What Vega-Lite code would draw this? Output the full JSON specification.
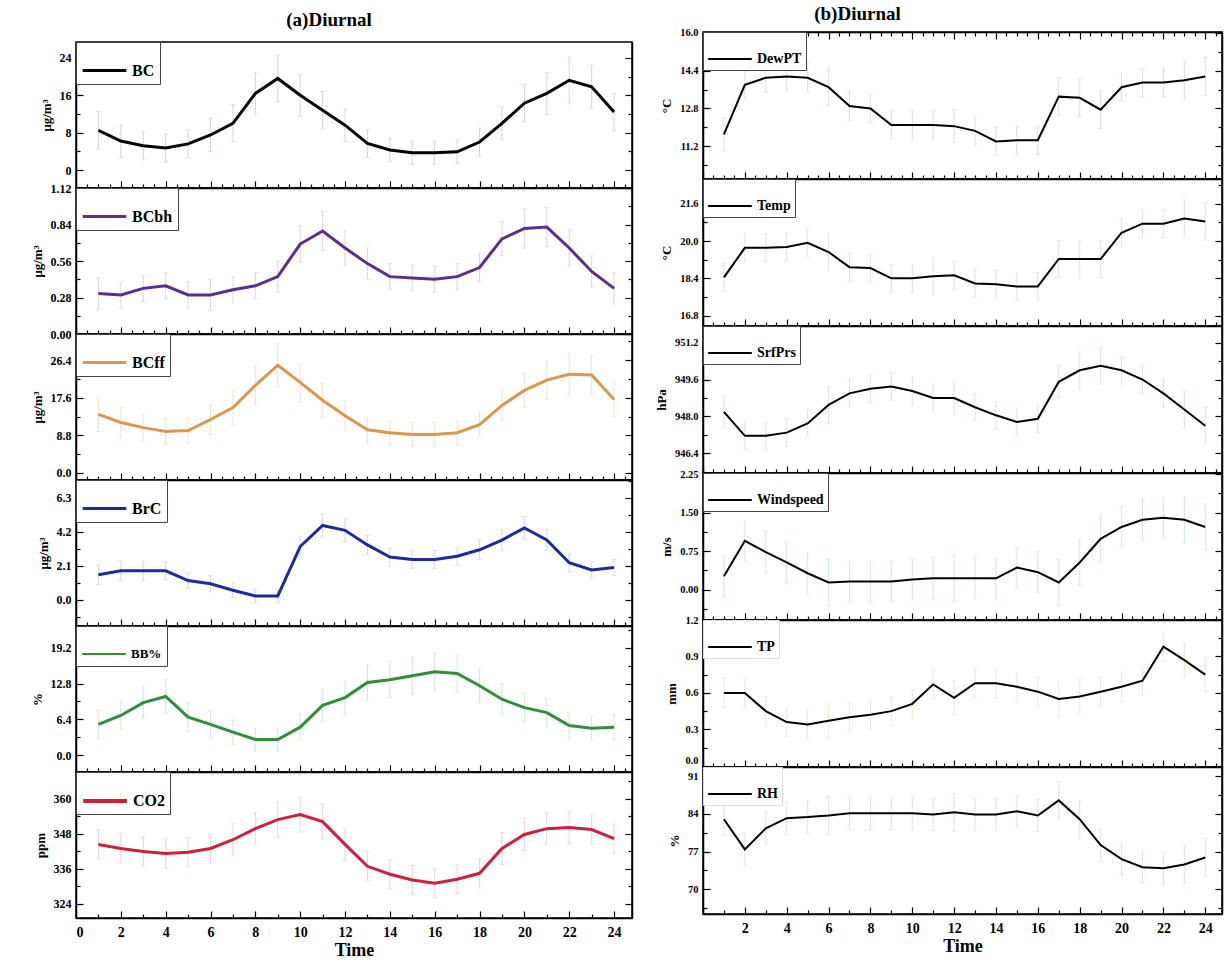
{
  "$schema": "https://vega.github.io/schema/vega-lite/v6.json",
  "padding": {"left": 30, "top": 4, "right": 5, "bottom": 5},
  "background": "white",
  "config": {
    "view": {"stroke": "#000", "strokeWidth": 1.5},
    "axis": {"labelFont": "Liberation Serif", "labelFontWeight": "bold", "labelFontSize": 12, "labelColor": "#000",
      "titleFont": "Liberation Serif", "titleFontWeight": "bold", "titleFontSize": 13, "titleColor": "#000",
      "domainColor": "#000", "domainWidth": 1.5, "tickColor": "#000", "tickWidth": 1.2, "grid": false},
    "legend": {"labelFont": "Liberation Serif", "labelFontWeight": "bold", "labelFontSize": 16, "labelColor": "#000"}
  },
  "datasets": {
    "BC": [{"h":1,"v":8.5,"e":4},{"h":2,"v":6.2,"e":3.5},{"h":3,"v":5.2,"e":3},{"h":4,"v":4.7,"e":3},{"h":5,"v":5.6,"e":3},{"h":6,"v":7.5,"e":3.5},{"h":7,"v":10,"e":4},{"h":8,"v":16.4,"e":4.5},{"h":9,"v":19.6,"e":5},{"h":10,"v":16,"e":4.5},{"h":11,"v":12.8,"e":4},{"h":12,"v":9.6,"e":3.5},{"h":13,"v":5.7,"e":3},{"h":14,"v":4.3,"e":2.5},{"h":15,"v":3.7,"e":2.5},{"h":16,"v":3.7,"e":2.5},{"h":17,"v":3.9,"e":2.5},{"h":18,"v":6,"e":3},{"h":19,"v":10,"e":3.5},{"h":20,"v":14.3,"e":4},{"h":21,"v":16.4,"e":4.5},{"h":22,"v":19.2,"e":5},{"h":23,"v":17.8,"e":4.5},{"h":24,"v":12.4,"e":4}],
    "BCbh": [{"h":1,"v":0.31,"e":0.12},{"h":2,"v":0.30,"e":0.1},{"h":3,"v":0.35,"e":0.1},{"h":4,"v":0.37,"e":0.1},{"h":5,"v":0.30,"e":0.1},{"h":6,"v":0.30,"e":0.12},{"h":7,"v":0.34,"e":0.1},{"h":8,"v":0.37,"e":0.1},{"h":9,"v":0.44,"e":0.12},{"h":10,"v":0.69,"e":0.14},{"h":11,"v":0.79,"e":0.15},{"h":12,"v":0.66,"e":0.13},{"h":13,"v":0.54,"e":0.12},{"h":14,"v":0.44,"e":0.1},{"h":15,"v":0.43,"e":0.1},{"h":16,"v":0.42,"e":0.1},{"h":17,"v":0.44,"e":0.1},{"h":18,"v":0.51,"e":0.11},{"h":19,"v":0.73,"e":0.13},{"h":20,"v":0.81,"e":0.15},{"h":21,"v":0.82,"e":0.15},{"h":22,"v":0.66,"e":0.14},{"h":23,"v":0.48,"e":0.12},{"h":24,"v":0.35,"e":0.12}],
    "BCff": [{"h":1,"v":13.7,"e":4},{"h":2,"v":11.8,"e":3.5},{"h":3,"v":10.6,"e":3},{"h":4,"v":9.7,"e":3},{"h":5,"v":9.9,"e":3},{"h":6,"v":12.5,"e":3.5},{"h":7,"v":15.3,"e":4},{"h":8,"v":20.5,"e":4.5},{"h":9,"v":25.2,"e":5},{"h":10,"v":21.2,"e":4.5},{"h":11,"v":17,"e":4},{"h":12,"v":13.4,"e":3.5},{"h":13,"v":10.1,"e":3},{"h":14,"v":9.4,"e":2.8},{"h":15,"v":9.0,"e":2.8},{"h":16,"v":9.0,"e":2.8},{"h":17,"v":9.4,"e":2.8},{"h":18,"v":11.3,"e":3},{"h":19,"v":15.8,"e":3.5},{"h":20,"v":19.3,"e":4},{"h":21,"v":21.7,"e":4.5},{"h":22,"v":23.1,"e":5},{"h":23,"v":22.9,"e":4.5},{"h":24,"v":17.2,"e":4}],
    "BrC": [{"h":1,"v":1.55,"e":0.6},{"h":2,"v":1.8,"e":0.6},{"h":3,"v":1.8,"e":0.6},{"h":4,"v":1.8,"e":0.55},{"h":5,"v":1.2,"e":0.5},{"h":6,"v":1.0,"e":0.5},{"h":7,"v":0.6,"e":0.45},{"h":8,"v":0.25,"e":0.4},{"h":9,"v":0.25,"e":0.4},{"h":10,"v":3.3,"e":0.6},{"h":11,"v":4.6,"e":0.7},{"h":12,"v":4.3,"e":0.7},{"h":13,"v":3.4,"e":0.6},{"h":14,"v":2.65,"e":0.55},{"h":15,"v":2.5,"e":0.55},{"h":16,"v":2.5,"e":0.55},{"h":17,"v":2.7,"e":0.55},{"h":18,"v":3.1,"e":0.6},{"h":19,"v":3.7,"e":0.65},{"h":20,"v":4.45,"e":0.7},{"h":21,"v":3.7,"e":0.65},{"h":22,"v":2.3,"e":0.55},{"h":23,"v":1.85,"e":0.5},{"h":24,"v":2.0,"e":0.5}],
    "RHp": [{"h":1,"v":5.5,"e":2.5},{"h":2,"v":7.1,"e":2.5},{"h":3,"v":9.4,"e":2.8},{"h":4,"v":10.5,"e":3},{"h":5,"v":6.8,"e":2.6},{"h":6,"v":5.5,"e":2.4},{"h":7,"v":4.1,"e":2.2},{"h":8,"v":2.8,"e":2},{"h":9,"v":2.8,"e":2},{"h":10,"v":5.0,"e":2.3},{"h":11,"v":8.9,"e":2.8},{"h":12,"v":10.3,"e":3},{"h":13,"v":13.0,"e":3.2},{"h":14,"v":13.5,"e":3.2},{"h":15,"v":14.2,"e":3.3},{"h":16,"v":14.9,"e":3.4},{"h":17,"v":14.6,"e":3.3},{"h":18,"v":12.4,"e":3},{"h":19,"v":10.0,"e":2.8},{"h":20,"v":8.5,"e":2.6},{"h":21,"v":7.6,"e":2.5},{"h":22,"v":5.3,"e":2.3},{"h":23,"v":4.8,"e":2.2},{"h":24,"v":5.0,"e":2.2}],
    "CO2": [{"h":1,"v":344.4,"e":5},{"h":2,"v":343,"e":5},{"h":3,"v":342,"e":5},{"h":4,"v":341.3,"e":5},{"h":5,"v":341.7,"e":5},{"h":6,"v":343,"e":5},{"h":7,"v":346,"e":5.5},{"h":8,"v":349.8,"e":5.5},{"h":9,"v":352.9,"e":6},{"h":10,"v":354.6,"e":6},{"h":11,"v":352.2,"e":6},{"h":12,"v":344.4,"e":5.5},{"h":13,"v":336.9,"e":5},{"h":14,"v":334.2,"e":5},{"h":15,"v":332.2,"e":5},{"h":16,"v":331.1,"e":5},{"h":17,"v":332.5,"e":5},{"h":18,"v":334.5,"e":5},{"h":19,"v":343,"e":5.5},{"h":20,"v":347.8,"e":5.5},{"h":21,"v":349.8,"e":5.5},{"h":22,"v":350.2,"e":5.5},{"h":23,"v":349.5,"e":5},{"h":24,"v":346.4,"e":5}],
    "DewPT": [{"h":1,"v":11.7,"e":0.7},{"h":2,"v":13.8,"e":0.6},{"h":3,"v":14.1,"e":0.6},{"h":4,"v":14.15,"e":0.6},{"h":5,"v":14.1,"e":0.6},{"h":6,"v":13.7,"e":0.8},{"h":7,"v":12.9,"e":0.6},{"h":8,"v":12.8,"e":0.6},{"h":9,"v":12.1,"e":0.6},{"h":10,"v":12.1,"e":0.6},{"h":11,"v":12.1,"e":0.6},{"h":12,"v":12.05,"e":0.7},{"h":13,"v":11.85,"e":0.6},{"h":14,"v":11.4,"e":0.6},{"h":15,"v":11.45,"e":0.6},{"h":16,"v":11.45,"e":0.6},{"h":17,"v":13.3,"e":0.8},{"h":18,"v":13.25,"e":0.8},{"h":19,"v":12.75,"e":0.8},{"h":20,"v":13.7,"e":0.6},{"h":21,"v":13.9,"e":0.6},{"h":22,"v":13.9,"e":0.6},{"h":23,"v":14.0,"e":0.8},{"h":24,"v":14.15,"e":0.8}],
    "Temp": [{"h":1,"v":18.44,"e":0.6},{"h":2,"v":19.71,"e":0.6},{"h":3,"v":19.71,"e":0.6},{"h":4,"v":19.75,"e":0.6},{"h":5,"v":19.93,"e":0.6},{"h":6,"v":19.53,"e":0.8},{"h":7,"v":18.88,"e":0.6},{"h":8,"v":18.84,"e":0.6},{"h":9,"v":18.4,"e":0.6},{"h":10,"v":18.4,"e":0.6},{"h":11,"v":18.49,"e":0.8},{"h":12,"v":18.53,"e":0.6},{"h":13,"v":18.18,"e":0.6},{"h":14,"v":18.14,"e":0.6},{"h":15,"v":18.05,"e":0.6},{"h":16,"v":18.05,"e":0.6},{"h":17,"v":19.23,"e":0.8},{"h":18,"v":19.23,"e":0.8},{"h":19,"v":19.23,"e":0.8},{"h":20,"v":20.36,"e":0.6},{"h":21,"v":20.75,"e":0.6},{"h":22,"v":20.75,"e":0.6},{"h":23,"v":20.97,"e":0.8},{"h":24,"v":20.84,"e":0.8}],
    "SrfPrs": [{"h":1,"v":948.2,"e":0.7},{"h":2,"v":947.16,"e":0.6},{"h":3,"v":947.16,"e":0.6},{"h":4,"v":947.3,"e":0.6},{"h":5,"v":947.7,"e":0.6},{"h":6,"v":948.5,"e":0.8},{"h":7,"v":949.0,"e":0.6},{"h":8,"v":949.2,"e":0.6},{"h":9,"v":949.3,"e":0.6},{"h":10,"v":949.1,"e":0.6},{"h":11,"v":948.8,"e":0.6},{"h":12,"v":948.8,"e":0.7},{"h":13,"v":948.4,"e":0.6},{"h":14,"v":948.05,"e":0.6},{"h":15,"v":947.76,"e":0.6},{"h":16,"v":947.9,"e":0.6},{"h":17,"v":949.5,"e":0.7},{"h":18,"v":950.0,"e":0.8},{"h":19,"v":950.2,"e":0.8},{"h":20,"v":950.0,"e":0.6},{"h":21,"v":949.6,"e":0.6},{"h":22,"v":949.0,"e":0.6},{"h":23,"v":948.3,"e":0.8},{"h":24,"v":947.6,"e":0.8}],
    "Wind": [{"h":1,"v":0.26,"e":0.4},{"h":2,"v":0.95,"e":0.4},{"h":3,"v":0.73,"e":0.4},{"h":4,"v":0.53,"e":0.4},{"h":5,"v":0.32,"e":0.4},{"h":6,"v":0.14,"e":0.45},{"h":7,"v":0.16,"e":0.4},{"h":8,"v":0.16,"e":0.4},{"h":9,"v":0.16,"e":0.4},{"h":10,"v":0.2,"e":0.4},{"h":11,"v":0.22,"e":0.4},{"h":12,"v":0.22,"e":0.45},{"h":13,"v":0.22,"e":0.4},{"h":14,"v":0.22,"e":0.4},{"h":15,"v":0.43,"e":0.4},{"h":16,"v":0.34,"e":0.4},{"h":17,"v":0.14,"e":0.45},{"h":18,"v":0.53,"e":0.45},{"h":19,"v":0.99,"e":0.45},{"h":20,"v":1.22,"e":0.4},{"h":21,"v":1.36,"e":0.4},{"h":22,"v":1.40,"e":0.4},{"h":23,"v":1.36,"e":0.45},{"h":24,"v":1.22,"e":0.45}],
    "TP": [{"h":1,"v":0.6,"e":0.12},{"h":2,"v":0.6,"e":0.12},{"h":3,"v":0.45,"e":0.12},{"h":4,"v":0.36,"e":0.12},{"h":5,"v":0.34,"e":0.12},{"h":6,"v":0.37,"e":0.14},{"h":7,"v":0.4,"e":0.12},{"h":8,"v":0.42,"e":0.12},{"h":9,"v":0.45,"e":0.12},{"h":10,"v":0.51,"e":0.12},{"h":11,"v":0.67,"e":0.12},{"h":12,"v":0.56,"e":0.14},{"h":13,"v":0.68,"e":0.12},{"h":14,"v":0.68,"e":0.12},{"h":15,"v":0.65,"e":0.12},{"h":16,"v":0.61,"e":0.12},{"h":17,"v":0.55,"e":0.14},{"h":18,"v":0.57,"e":0.14},{"h":19,"v":0.61,"e":0.12},{"h":20,"v":0.65,"e":0.12},{"h":21,"v":0.70,"e":0.12},{"h":22,"v":0.98,"e":0.12},{"h":23,"v":0.87,"e":0.14},{"h":24,"v":0.75,"e":0.14}],
    "RH": [{"h":1,"v":83.0,"e":3},{"h":2,"v":77.4,"e":3},{"h":3,"v":81.3,"e":3},{"h":4,"v":83.2,"e":3},{"h":5,"v":83.4,"e":3},{"h":6,"v":83.7,"e":3.5},{"h":7,"v":84.1,"e":3},{"h":8,"v":84.1,"e":3},{"h":9,"v":84.1,"e":3},{"h":10,"v":84.1,"e":3},{"h":11,"v":83.9,"e":3},{"h":12,"v":84.3,"e":3.5},{"h":13,"v":83.9,"e":3},{"h":14,"v":83.9,"e":3},{"h":15,"v":84.5,"e":3},{"h":16,"v":83.7,"e":3},{"h":17,"v":86.5,"e":3.5},{"h":18,"v":83.0,"e":3.5},{"h":19,"v":78.2,"e":3},{"h":20,"v":75.6,"e":3},{"h":21,"v":74.1,"e":3},{"h":22,"v":73.9,"e":3},{"h":23,"v":74.6,"e":3.5},{"h":24,"v":75.9,"e":3.5}]
  },
  "concat": [
    {
      "spacing": 0,
      "bounds": "flush",
      "resolve": {"scale": {"color": "independent", "x": "independent", "y": "independent"}, "legend": {"color": "independent"}},
      "vconcat": [
        {"width": 556, "height": 10, "data": {"values": []}, "mark": "point", "view": {"stroke": null},
         "title": {"text": "(a)Diurnal", "font": "Liberation Serif", "fontSize": 19, "fontWeight": "bold", "color": "#000", "anchor": "middle", "dx": -25, "offset": 2}},
        {"width": 556, "height": 146, "data": {"name": "BC"},
         "encoding": {"x": {"field": "h", "type": "quantitative", "scale": {"domain": [0, 24.8], "nice": false, "zero": false},
               "axis": {"values": [0,0.5,1,1.5,2,2.5,3,3.5,4,4.5,5,5.5,6,6.5,7,7.5,8,8.5,9,9.5,10,10.5,11,11.5,12,12.5,13,13.5,14,14.5,15,15.5,16,16.5,17,17.5,18,18.5,19,19.5,20,20.5,21,21.5,22,22.5,23,23.5,24,24.5], "labels": false, "title": null, "maxExtent": 0, "minExtent": 0, "tickSize": {"condition": {"test": "datum.value % 2 === 0", "value": -7}, "value": -4}}},
             "y": {"field": "v", "type": "quantitative", "scale": {"domain": [-3.84, 27.4], "nice": false, "zero": false},
               "axis": {"values": [0,4,8,12,16,20,24], "format": "d", "labelExpr": "indexof([0,8,16,24], datum.value) >= 0 ? datum.label : ''", "tickSize": {"condition": {"test": "indexof([0,8,16,24], datum.value) >= 0", "value": -7}, "value": -4}, "labelPadding": 12, "title": "μg/m³", "titlePadding": 6}}},
         "resolve": {"axis": {"y": "independent"}},
         "layer": [
          {"mark": {"type": "errorbar", "ticks": true, "color": "#cfd6e4", "clip": true}, "encoding": {"yError": {"field": "e"}}},
          {"mark": {"type": "line", "strokeWidth": 3, "clip": true},
           "encoding": {"y": {"field": "v", "type": "quantitative", "scale": {"domain": [-3.84, 27.4], "nice": false, "zero": false}, "axis": {"orient": "right", "values": [0,4,8,12,16,20,24], "labels": false, "title": null, "maxExtent": 0, "minExtent": 0, "tickSize": {"condition": {"test": "indexof([0,8,16,24], datum.value) >= 0", "value": -7}, "value": -4}}},
             "color": {"datum": "BC", "type": "nominal", "scale": {"range": ["#000000"]}, "legend": {"orient": "top-left", "offset": 0, "title": null, "symbolType": "stroke", "symbolStrokeWidth": 3, "symbolSize": 1900, "strokeColor": "#444", "fillColor": "white", "padding": 5}}}}
         ]},
        {"width": 556, "height": 146, "data": {"name": "BCbh"},
         "encoding": {"x": {"field": "h", "type": "quantitative", "scale": {"domain": [0, 24.8], "nice": false, "zero": false},
               "axis": {"values": [0,0.5,1,1.5,2,2.5,3,3.5,4,4.5,5,5.5,6,6.5,7,7.5,8,8.5,9,9.5,10,10.5,11,11.5,12,12.5,13,13.5,14,14.5,15,15.5,16,16.5,17,17.5,18,18.5,19,19.5,20,20.5,21,21.5,22,22.5,23,23.5,24,24.5], "labels": false, "title": null, "maxExtent": 0, "minExtent": 0, "tickSize": {"condition": {"test": "datum.value % 2 === 0", "value": -7}, "value": -4}}},
             "y": {"field": "v", "type": "quantitative", "scale": {"domain": [0, 1.12], "nice": false, "zero": false},
               "axis": {"values": [0,0.14,0.28,0.42,0.56,0.7,0.84,0.98,1.12], "format": ".2f", "labelExpr": "indexof([0,0.28,0.56,0.84,1.12], datum.value) >= 0 ? datum.label : ''", "tickSize": {"condition": {"test": "indexof([0,0.28,0.56,0.84,1.12], datum.value) >= 0", "value": -7}, "value": -4}, "labelPadding": 12, "title": "μg/m³", "titlePadding": 6}}},
         "resolve": {"axis": {"y": "independent"}},
         "layer": [
          {"mark": {"type": "errorbar", "ticks": true, "color": "#ddd3ec", "clip": true}, "encoding": {"yError": {"field": "e"}}},
          {"mark": {"type": "line", "strokeWidth": 3, "clip": true},
           "encoding": {"y": {"field": "v", "type": "quantitative", "scale": {"domain": [0, 1.12], "nice": false, "zero": false}, "axis": {"orient": "right", "values": [0,0.14,0.28,0.42,0.56,0.7,0.84,0.98,1.12], "labels": false, "title": null, "maxExtent": 0, "minExtent": 0, "tickSize": {"condition": {"test": "indexof([0,0.28,0.56,0.84,1.12], datum.value) >= 0", "value": -7}, "value": -4}}},
             "color": {"datum": "BCbh", "type": "nominal", "scale": {"range": ["#5b2d92"]}, "legend": {"orient": "top-left", "offset": 0, "title": null, "symbolType": "stroke", "symbolStrokeWidth": 3, "symbolSize": 1900, "strokeColor": "#444", "fillColor": "white", "padding": 5}}}}
         ]},
        {"width": 556, "height": 146, "data": {"name": "BCff"},
         "encoding": {"x": {"field": "h", "type": "quantitative", "scale": {"domain": [0, 24.8], "nice": false, "zero": false},
               "axis": {"values": [0,0.5,1,1.5,2,2.5,3,3.5,4,4.5,5,5.5,6,6.5,7,7.5,8,8.5,9,9.5,10,10.5,11,11.5,12,12.5,13,13.5,14,14.5,15,15.5,16,16.5,17,17.5,18,18.5,19,19.5,20,20.5,21,21.5,22,22.5,23,23.5,24,24.5], "labels": false, "title": null, "maxExtent": 0, "minExtent": 0, "tickSize": {"condition": {"test": "datum.value % 2 === 0", "value": -7}, "value": -4}}},
             "y": {"field": "v", "type": "quantitative", "scale": {"domain": [-1.65, 32.5], "nice": false, "zero": false},
               "axis": {"values": [0,4.4,8.8,13.2,17.6,22,26.4,30.8], "format": ".1f", "labelExpr": "indexof([0,8.8,17.6,26.4], datum.value) >= 0 ? datum.label : ''", "tickSize": {"condition": {"test": "indexof([0,8.8,17.6,26.4], datum.value) >= 0", "value": -7}, "value": -4}, "labelPadding": 12, "title": "μg/m³", "titlePadding": 6}}},
         "resolve": {"axis": {"y": "independent"}},
         "layer": [
          {"mark": {"type": "errorbar", "ticks": true, "color": "#f5e0cc", "clip": true}, "encoding": {"yError": {"field": "e"}}},
          {"mark": {"type": "line", "strokeWidth": 3, "clip": true},
           "encoding": {"y": {"field": "v", "type": "quantitative", "scale": {"domain": [-1.65, 32.5], "nice": false, "zero": false}, "axis": {"orient": "right", "values": [0,4.4,8.8,13.2,17.6,22,26.4,30.8], "labels": false, "title": null, "maxExtent": 0, "minExtent": 0, "tickSize": {"condition": {"test": "indexof([0,8.8,17.6,26.4], datum.value) >= 0", "value": -7}, "value": -4}}},
             "color": {"datum": "BCff", "type": "nominal", "scale": {"range": ["#dc964e"]}, "legend": {"orient": "top-left", "offset": 0, "title": null, "symbolType": "stroke", "symbolStrokeWidth": 3, "symbolSize": 1900, "strokeColor": "#444", "fillColor": "white", "padding": 5}}}}
         ]},
        {"width": 556, "height": 146, "data": {"name": "BrC"},
         "encoding": {"x": {"field": "h", "type": "quantitative", "scale": {"domain": [0, 24.8], "nice": false, "zero": false},
               "axis": {"values": [0,0.5,1,1.5,2,2.5,3,3.5,4,4.5,5,5.5,6,6.5,7,7.5,8,8.5,9,9.5,10,10.5,11,11.5,12,12.5,13,13.5,14,14.5,15,15.5,16,16.5,17,17.5,18,18.5,19,19.5,20,20.5,21,21.5,22,22.5,23,23.5,24,24.5], "labels": false, "title": null, "maxExtent": 0, "minExtent": 0, "tickSize": {"condition": {"test": "datum.value % 2 === 0", "value": -7}, "value": -4}}},
             "y": {"field": "v", "type": "quantitative", "scale": {"domain": [-1.61, 7.41], "nice": false, "zero": false},
               "axis": {"values": [-1.05,0,1.05,2.1,3.15,4.2,5.25,6.3,7.35], "format": ".1f", "labelExpr": "indexof([0,2.1,4.2,6.3], datum.value) >= 0 ? datum.label : ''", "tickSize": {"condition": {"test": "indexof([0,2.1,4.2,6.3], datum.value) >= 0", "value": -7}, "value": -4}, "labelPadding": 12, "title": "μg/m³", "titlePadding": 6}}},
         "resolve": {"axis": {"y": "independent"}},
         "layer": [
          {"mark": {"type": "errorbar", "ticks": true, "color": "#d3d6ef", "clip": true}, "encoding": {"yError": {"field": "e"}}},
          {"mark": {"type": "line", "strokeWidth": 3, "clip": true},
           "encoding": {"y": {"field": "v", "type": "quantitative", "scale": {"domain": [-1.61, 7.41], "nice": false, "zero": false}, "axis": {"orient": "right", "values": [-1.05,0,1.05,2.1,3.15,4.2,5.25,6.3,7.35], "labels": false, "title": null, "maxExtent": 0, "minExtent": 0, "tickSize": {"condition": {"test": "indexof([0,2.1,4.2,6.3], datum.value) >= 0", "value": -7}, "value": -4}}},
             "color": {"datum": "BrC", "type": "nominal", "scale": {"range": ["#1f2a9c"]}, "legend": {"orient": "top-left", "offset": 0, "title": null, "symbolType": "stroke", "symbolStrokeWidth": 3, "symbolSize": 1900, "strokeColor": "#444", "fillColor": "white", "padding": 5}}}}
         ]},
        {"width": 556, "height": 146, "data": {"name": "RHp"},
         "encoding": {"x": {"field": "h", "type": "quantitative", "scale": {"domain": [0, 24.8], "nice": false, "zero": false},
               "axis": {"values": [0,0.5,1,1.5,2,2.5,3,3.5,4,4.5,5,5.5,6,6.5,7,7.5,8,8.5,9,9.5,10,10.5,11,11.5,12,12.5,13,13.5,14,14.5,15,15.5,16,16.5,17,17.5,18,18.5,19,19.5,20,20.5,21,21.5,22,22.5,23,23.5,24,24.5], "labels": false, "title": null, "maxExtent": 0, "minExtent": 0, "tickSize": {"condition": {"test": "datum.value % 2 === 0", "value": -7}, "value": -4}}},
             "y": {"field": "v", "type": "quantitative", "scale": {"domain": [-3.02, 23.1], "nice": false, "zero": false},
               "axis": {"values": [0,3.2,6.4,9.6,12.8,16,19.2,22.4], "format": ".1f", "labelExpr": "indexof([0,6.4,12.8,19.2], datum.value) >= 0 ? datum.label : ''", "tickSize": {"condition": {"test": "indexof([0,6.4,12.8,19.2], datum.value) >= 0", "value": -7}, "value": -4}, "labelPadding": 12, "title": "%", "titlePadding": 6}}},
         "resolve": {"axis": {"y": "independent"}},
         "layer": [
          {"mark": {"type": "errorbar", "ticks": true, "color": "#d3e9d3", "clip": true}, "encoding": {"yError": {"field": "e"}}},
          {"mark": {"type": "line", "strokeWidth": 3, "clip": true},
           "encoding": {"y": {"field": "v", "type": "quantitative", "scale": {"domain": [-3.02, 23.1], "nice": false, "zero": false}, "axis": {"orient": "right", "values": [0,3.2,6.4,9.6,12.8,16,19.2,22.4], "labels": false, "title": null, "maxExtent": 0, "minExtent": 0, "tickSize": {"condition": {"test": "indexof([0,6.4,12.8,19.2], datum.value) >= 0", "value": -7}, "value": -4}}},
             "color": {"datum": "BB%", "type": "nominal", "scale": {"range": ["#2f8f3a"]}, "legend": {"orient": "top-left", "offset": 0, "title": null, "symbolType": "stroke", "symbolStrokeWidth": 2, "symbolSize": 1900, "strokeColor": "#444", "fillColor": "white", "padding": 5, "labelFontSize": 13}}}}
         ]},
        {"width": 556, "height": 146, "data": {"name": "CO2"},
         "encoding": {"x": {"field": "h", "type": "quantitative", "scale": {"domain": [0, 24.8], "nice": false, "zero": false},
               "axis": {"values": [0,0.5,1,1.5,2,2.5,3,3.5,4,4.5,5,5.5,6,6.5,7,7.5,8,8.5,9,9.5,10,10.5,11,11.5,12,12.5,13,13.5,14,14.5,15,15.5,16,16.5,17,17.5,18,18.5,19,19.5,20,20.5,21,21.5,22,22.5,23,23.5,24,24.5], "format": "d", "labelExpr": "datum.value % 2 === 0 ? datum.label : ''", "labelFontSize": 14, "labelPadding": 14, "title": "Time", "titleFontSize": 18, "titlePadding": 2, "tickSize": {"condition": {"test": "datum.value % 2 === 0", "value": -7}, "value": -4}}},
             "y": {"field": "v", "type": "quantitative", "scale": {"domain": [319.2, 369.2], "nice": false, "zero": false},
               "axis": {"values": [324,330,336,342,348,354,360,366], "format": "d", "labelExpr": "indexof([324,336,348,360], datum.value) >= 0 ? datum.label : ''", "tickSize": {"condition": {"test": "indexof([324,336,348,360], datum.value) >= 0", "value": -7}, "value": -4}, "labelPadding": 12, "title": "ppm", "titlePadding": 6}}},
         "resolve": {"axis": {"y": "independent"}},
         "layer": [
          {"mark": {"type": "errorbar", "ticks": true, "color": "#f4cfd6", "clip": true}, "encoding": {"yError": {"field": "e"}}},
          {"mark": {"type": "line", "strokeWidth": 3, "clip": true},
           "encoding": {"y": {"field": "v", "type": "quantitative", "scale": {"domain": [319.2, 369.2], "nice": false, "zero": false}, "axis": {"orient": "right", "values": [324,330,336,342,348,354,360,366], "labels": false, "title": null, "maxExtent": 0, "minExtent": 0, "tickSize": {"condition": {"test": "indexof([324,336,348,360], datum.value) >= 0", "value": -7}, "value": -4}}},
             "color": {"datum": "CO2", "type": "nominal", "scale": {"range": ["#d01f3c"]}, "legend": {"orient": "top-left", "offset": 0, "title": null, "symbolType": "stroke", "symbolStrokeWidth": 4, "symbolSize": 1900, "strokeColor": "#444", "fillColor": "white", "padding": 5}}}}
         ]}
      ]
    },
    {
      "spacing": 0,
      "bounds": "flush",
      "resolve": {"scale": {"color": "independent", "x": "independent", "y": "independent"}, "legend": {"color": "independent"}},
      "vconcat": [
        {"width": 519, "height": 147, "data": {"name": "DewPT"},
         "title": {"text": "(b)Diurnal", "font": "Liberation Serif", "fontSize": 19, "fontWeight": "bold", "color": "#000", "anchor": "middle", "dx": -105, "offset": 4},
         "encoding": {"x": {"field": "h", "type": "quantitative", "scale": {"domain": [0, 24.8], "nice": false, "zero": false},
               "axis": {"values": [0,0.5,1,1.5,2,2.5,3,3.5,4,4.5,5,5.5,6,6.5,7,7.5,8,8.5,9,9.5,10,10.5,11,11.5,12,12.5,13,13.5,14,14.5,15,15.5,16,16.5,17,17.5,18,18.5,19,19.5,20,20.5,21,21.5,22,22.5,23,23.5,24,24.5], "labels": false, "title": null, "maxExtent": 0, "minExtent": 0, "tickSize": {"condition": {"test": "datum.value % 2 === 0", "value": -7}, "value": -4}}},
             "y": {"field": "v", "type": "quantitative", "scale": {"domain": [9.81, 16.04], "nice": false, "zero": false},
               "axis": {"values": [10.4,11.2,12,12.8,13.6,14.4,15.2,16], "format": ".1f", "labelExpr": "indexof([11.2,12.8,14.4,16], datum.value) >= 0 ? datum.label : ''", "tickSize": {"condition": {"test": "indexof([11.2,12.8,14.4,16], datum.value) >= 0", "value": -7}, "value": -4}, "labelPadding": 12, "labelFontSize": 10.5, "title": "°C", "titlePadding": 6}}},
         "resolve": {"axis": {"y": "independent", "x": "independent"}},
         "layer": [
          {"mark": {"type": "errorbar", "ticks": true, "color": "#d9dfea", "clip": true}, "encoding": {"yError": {"field": "e"}}},
          {"mark": {"type": "line", "strokeWidth": 2, "clip": true},
           "encoding": {"x": {"field": "h", "type": "quantitative", "scale": {"domain": [0, 24.8], "nice": false, "zero": false}, "axis": {"orient": "top", "values": [0,0.5,1,1.5,2,2.5,3,3.5,4,4.5,5,5.5,6,6.5,7,7.5,8,8.5,9,9.5,10,10.5,11,11.5,12,12.5,13,13.5,14,14.5,15,15.5,16,16.5,17,17.5,18,18.5,19,19.5,20,20.5,21,21.5,22,22.5,23,23.5,24,24.5], "labels": false, "title": null, "maxExtent": 0, "minExtent": 0, "tickSize": {"condition": {"test": "datum.value % 2 === 0", "value": -7}, "value": -4}}},
             "y": {"field": "v", "type": "quantitative", "scale": {"domain": [9.81, 16.04], "nice": false, "zero": false}, "axis": {"orient": "right", "values": [10.4,11.2,12,12.8,13.6,14.4,15.2,16], "labels": false, "title": null, "maxExtent": 0, "minExtent": 0, "tickSize": {"condition": {"test": "indexof([11.2,12.8,14.4,16], datum.value) >= 0", "value": -7}, "value": -4}}},
             "color": {"datum": "DewPT", "type": "nominal", "scale": {"range": ["#000000"]}, "legend": {"orient": "top-left", "offset": 0, "title": null, "symbolType": "stroke", "symbolStrokeWidth": 2, "symbolSize": 1900, "strokeColor": "#444", "fillColor": "white", "padding": 4, "labelFontSize": 14}}}}
         ]},
        {"width": 519, "height": 147, "data": {"name": "Temp"},
         "encoding": {"x": {"field": "h", "type": "quantitative", "scale": {"domain": [0, 24.8], "nice": false, "zero": false},
               "axis": {"values": [0,0.5,1,1.5,2,2.5,3,3.5,4,4.5,5,5.5,6,6.5,7,7.5,8,8.5,9,9.5,10,10.5,11,11.5,12,12.5,13,13.5,14,14.5,15,15.5,16,16.5,17,17.5,18,18.5,19,19.5,20,20.5,21,21.5,22,22.5,23,23.5,24,24.5], "labels": false, "title": null, "maxExtent": 0, "minExtent": 0, "tickSize": {"condition": {"test": "datum.value % 2 === 0", "value": -7}, "value": -4}}},
             "y": {"field": "v", "type": "quantitative", "scale": {"domain": [16.35, 22.67], "nice": false, "zero": false},
               "axis": {"values": [16.8,17.6,18.4,19.2,20,20.8,21.6,22.4], "format": ".1f", "labelExpr": "indexof([16.8,18.4,20,21.6], datum.value) >= 0 ? datum.label : ''", "tickSize": {"condition": {"test": "indexof([16.8,18.4,20,21.6], datum.value) >= 0", "value": -7}, "value": -4}, "labelPadding": 12, "labelFontSize": 10.5, "title": "°C", "titlePadding": 6}}},
         "resolve": {"axis": {"y": "independent"}},
         "layer": [
          {"mark": {"type": "errorbar", "ticks": true, "color": "#e8e2d0", "clip": true}, "encoding": {"yError": {"field": "e"}}},
          {"mark": {"type": "line", "strokeWidth": 2, "clip": true},
           "encoding": {"y": {"field": "v", "type": "quantitative", "scale": {"domain": [16.35, 22.67], "nice": false, "zero": false}, "axis": {"orient": "right", "values": [16.8,17.6,18.4,19.2,20,20.8,21.6,22.4], "labels": false, "title": null, "maxExtent": 0, "minExtent": 0, "tickSize": {"condition": {"test": "indexof([16.8,18.4,20,21.6], datum.value) >= 0", "value": -7}, "value": -4}}},
             "color": {"datum": "Temp", "type": "nominal", "scale": {"range": ["#000000"]}, "legend": {"orient": "top-left", "offset": 0, "title": null, "symbolType": "stroke", "symbolStrokeWidth": 2, "symbolSize": 1900, "strokeColor": "#444", "fillColor": "white", "padding": 4, "labelFontSize": 14}}}}
         ]},
        {"width": 519, "height": 147, "data": {"name": "SrfPrs"},
         "encoding": {"x": {"field": "h", "type": "quantitative", "scale": {"domain": [0, 24.8], "nice": false, "zero": false},
               "axis": {"values": [0,0.5,1,1.5,2,2.5,3,3.5,4,4.5,5,5.5,6,6.5,7,7.5,8,8.5,9,9.5,10,10.5,11,11.5,12,12.5,13,13.5,14,14.5,15,15.5,16,16.5,17,17.5,18,18.5,19,19.5,20,20.5,21,21.5,22,22.5,23,23.5,24,24.5], "labels": false, "title": null, "maxExtent": 0, "minExtent": 0, "tickSize": {"condition": {"test": "datum.value % 2 === 0", "value": -7}, "value": -4}}},
             "y": {"field": "v", "type": "quantitative", "scale": {"domain": [945.55, 951.92], "nice": false, "zero": false},
               "axis": {"values": [945.6,946.4,947.2,948,948.8,949.6,950.4,951.2], "format": ".1f", "labelExpr": "indexof([946.4,948,949.6,951.2], datum.value) >= 0 ? datum.label : ''", "tickSize": {"condition": {"test": "indexof([946.4,948,949.6,951.2], datum.value) >= 0", "value": -7}, "value": -4}, "labelPadding": 12, "labelFontSize": 10.5, "title": "hPa", "titlePadding": 6}}},
         "resolve": {"axis": {"y": "independent"}},
         "layer": [
          {"mark": {"type": "errorbar", "ticks": true, "color": "#d5e9d9", "clip": true}, "encoding": {"yError": {"field": "e"}}},
          {"mark": {"type": "line", "strokeWidth": 2, "clip": true},
           "encoding": {"y": {"field": "v", "type": "quantitative", "scale": {"domain": [945.55, 951.92], "nice": false, "zero": false}, "axis": {"orient": "right", "values": [945.6,946.4,947.2,948,948.8,949.6,950.4,951.2], "labels": false, "title": null, "maxExtent": 0, "minExtent": 0, "tickSize": {"condition": {"test": "indexof([946.4,948,949.6,951.2], datum.value) >= 0", "value": -7}, "value": -4}}},
             "color": {"datum": "SrfPrs", "type": "nominal", "scale": {"range": ["#000000"]}, "legend": {"orient": "top-left", "offset": 0, "title": null, "symbolType": "stroke", "symbolStrokeWidth": 2, "symbolSize": 1900, "strokeColor": "#444", "fillColor": "white", "padding": 4, "labelFontSize": 14}}}}
         ]},
        {"width": 519, "height": 147, "data": {"name": "Wind"},
         "encoding": {"x": {"field": "h", "type": "quantitative", "scale": {"domain": [0, 24.8], "nice": false, "zero": false},
               "axis": {"values": [0,0.5,1,1.5,2,2.5,3,3.5,4,4.5,5,5.5,6,6.5,7,7.5,8,8.5,9,9.5,10,10.5,11,11.5,12,12.5,13,13.5,14,14.5,15,15.5,16,16.5,17,17.5,18,18.5,19,19.5,20,20.5,21,21.5,22,22.5,23,23.5,24,24.5], "labels": false, "title": null, "maxExtent": 0, "minExtent": 0, "tickSize": {"condition": {"test": "datum.value % 2 === 0", "value": -7}, "value": -4}}},
             "y": {"field": "v", "type": "quantitative", "scale": {"domain": [-0.59, 2.27], "nice": false, "zero": false},
               "axis": {"values": [-0.375,0,0.375,0.75,1.125,1.5,1.875,2.25], "format": ".2f", "labelExpr": "indexof([0,0.75,1.5,2.25], datum.value) >= 0 ? datum.label : ''", "tickSize": {"condition": {"test": "indexof([0,0.75,1.5,2.25], datum.value) >= 0", "value": -7}, "value": -4}, "labelPadding": 12, "labelFontSize": 10.5, "title": "m/s", "titlePadding": 6}}},
         "resolve": {"axis": {"y": "independent"}},
         "layer": [
          {"mark": {"type": "errorbar", "ticks": true, "color": "#cfe9ed", "clip": true}, "encoding": {"yError": {"field": "e"}}},
          {"mark": {"type": "line", "strokeWidth": 2, "clip": true},
           "encoding": {"y": {"field": "v", "type": "quantitative", "scale": {"domain": [-0.59, 2.27], "nice": false, "zero": false}, "axis": {"orient": "right", "values": [-0.375,0,0.375,0.75,1.125,1.5,1.875,2.25], "labels": false, "title": null, "maxExtent": 0, "minExtent": 0, "tickSize": {"condition": {"test": "indexof([0,0.75,1.5,2.25], datum.value) >= 0", "value": -7}, "value": -4}}},
             "color": {"datum": "Windspeed", "type": "nominal", "scale": {"range": ["#000000"]}, "legend": {"orient": "top-left", "offset": 0, "title": null, "symbolType": "stroke", "symbolStrokeWidth": 2, "symbolSize": 1900, "strokeColor": "#444", "fillColor": "white", "padding": 4, "labelFontSize": 14}}}}
         ]},
        {"width": 519, "height": 147, "data": {"name": "TP"},
         "encoding": {"x": {"field": "h", "type": "quantitative", "scale": {"domain": [0, 24.8], "nice": false, "zero": false},
               "axis": {"values": [0,0.5,1,1.5,2,2.5,3,3.5,4,4.5,5,5.5,6,6.5,7,7.5,8,8.5,9,9.5,10,10.5,11,11.5,12,12.5,13,13.5,14,14.5,15,15.5,16,16.5,17,17.5,18,18.5,19,19.5,20,20.5,21,21.5,22,22.5,23,23.5,24,24.5], "labels": false, "title": null, "maxExtent": 0, "minExtent": 0, "tickSize": {"condition": {"test": "datum.value % 2 === 0", "value": -7}, "value": -4}}},
             "y": {"field": "v", "type": "quantitative", "scale": {"domain": [-0.01, 1.2], "nice": false, "zero": false},
               "axis": {"values": [0,0.15,0.3,0.45,0.6,0.75,0.9,1.05,1.2], "format": ".1f", "labelExpr": "indexof([0,0.3,0.6,0.9,1.2], datum.value) >= 0 ? datum.label : ''", "labelBaseline": {"condition": {"test": "datum.value === 0", "value": "bottom"}, "value": "middle"}, "tickSize": {"condition": {"test": "indexof([0,0.3,0.6,0.9,1.2], datum.value) >= 0", "value": -7}, "value": -4}, "labelPadding": 12, "labelFontSize": 10.5, "title": "mm", "titlePadding": 6}}},
         "resolve": {"axis": {"y": "independent"}},
         "layer": [
          {"mark": {"type": "errorbar", "ticks": true, "color": "#eaeacf", "clip": true}, "encoding": {"yError": {"field": "e"}}},
          {"mark": {"type": "line", "strokeWidth": 2, "clip": true},
           "encoding": {"y": {"field": "v", "type": "quantitative", "scale": {"domain": [-0.01, 1.2], "nice": false, "zero": false}, "axis": {"orient": "right", "values": [0,0.15,0.3,0.45,0.6,0.75,0.9,1.05,1.2], "labels": false, "title": null, "maxExtent": 0, "minExtent": 0, "tickSize": {"condition": {"test": "indexof([0,0.3,0.6,0.9,1.2], datum.value) >= 0", "value": -7}, "value": -4}}},
             "color": {"datum": "TP", "type": "nominal", "scale": {"range": ["#000000"]}, "legend": {"orient": "top-left", "offset": 0, "title": null, "symbolType": "stroke", "symbolStrokeWidth": 2, "symbolSize": 1900, "strokeColor": "#ddd", "fillColor": "white", "padding": 4, "labelFontSize": 14}}}}
         ]},
        {"width": 519, "height": 147, "data": {"name": "RH"},
         "encoding": {"x": {"field": "h", "type": "quantitative", "scale": {"domain": [0, 24.8], "nice": false, "zero": false},
               "axis": {"values": [0,0.5,1,1.5,2,2.5,3,3.5,4,4.5,5,5.5,6,6.5,7,7.5,8,8.5,9,9.5,10,10.5,11,11.5,12,12.5,13,13.5,14,14.5,15,15.5,16,16.5,17,17.5,18,18.5,19,19.5,20,20.5,21,21.5,22,22.5,23,23.5,24,24.5], "format": "d", "labelExpr": "datum.value % 2 === 0 && datum.value > 0 ? datum.label : ''", "labelFontSize": 14, "labelPadding": 14, "title": "Time", "titleFontSize": 18, "titlePadding": 2, "tickSize": {"condition": {"test": "datum.value % 2 === 0", "value": -7}, "value": -4}}},
             "y": {"field": "v", "type": "quantitative", "scale": {"domain": [65.4, 92.7], "nice": false, "zero": false},
               "axis": {"values": [66.5,70,73.5,77,80.5,84,87.5,91], "format": "d", "labelExpr": "indexof([70,77,84,91], datum.value) >= 0 ? datum.label : ''", "tickSize": {"condition": {"test": "indexof([70,77,84,91], datum.value) >= 0", "value": -7}, "value": -4}, "labelPadding": 12, "labelFontSize": 10.5, "title": "%", "titlePadding": 6}}},
         "resolve": {"axis": {"y": "independent"}},
         "layer": [
          {"mark": {"type": "errorbar", "ticks": true, "color": "#ecdde1", "clip": true}, "encoding": {"yError": {"field": "e"}}},
          {"mark": {"type": "line", "strokeWidth": 2, "clip": true},
           "encoding": {"y": {"field": "v", "type": "quantitative", "scale": {"domain": [65.4, 92.7], "nice": false, "zero": false}, "axis": {"orient": "right", "values": [66.5,70,73.5,77,80.5,84,87.5,91], "labels": false, "title": null, "maxExtent": 0, "minExtent": 0, "tickSize": {"condition": {"test": "indexof([70,77,84,91], datum.value) >= 0", "value": -7}, "value": -4}}},
             "color": {"datum": "RH", "type": "nominal", "scale": {"range": ["#000000"]}, "legend": {"orient": "top-left", "offset": 0, "title": null, "symbolType": "stroke", "symbolStrokeWidth": 2, "symbolSize": 1900, "strokeColor": "#ddd", "fillColor": "white", "padding": 4, "labelFontSize": 14}}}}
         ]}
      ]
    }
  ],
  "columns": 2,
  "align": "none",
  "spacing": 20,
  "resolve": {"scale": {"color": "independent", "x": "independent", "y": "independent"}, "legend": {"color": "independent"}}
}
